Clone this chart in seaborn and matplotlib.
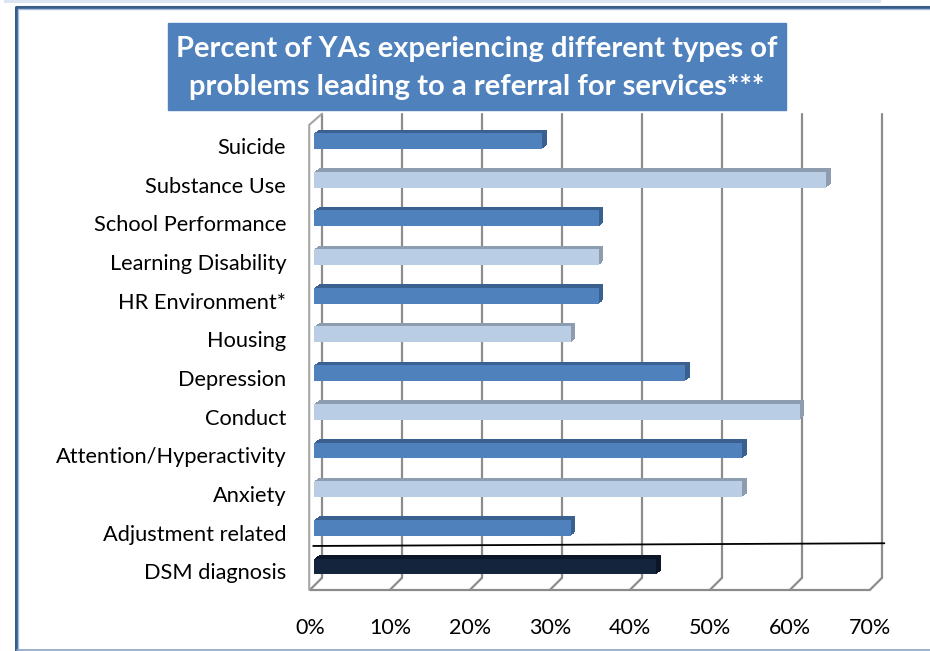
import matplotlib
matplotlib.use("Agg")
import matplotlib.pyplot as plt
import matplotlib.transforms as mtransforms
from matplotlib.patches import Rectangle
from matplotlib.lines import Line2D
import seaborn as sns
import pandas as pd

# data
categories = ["Suicide", "Substance Use", "School Performance", "Learning Disability",
              "HR Environment*", "Housing", "Depression", "Conduct",
              "Attention/Hyperactivity", "Anxiety", "Adjustment related", "DSM diagnosis"]
percents = [28.5, 64.0, 35.6, 35.6, 35.6, 32.1, 46.4, 60.7, 53.5, 53.5, 32.1, 42.8]
x_ticks = [0, 10, 20, 30, 40, 50, 60, 70]
x_tick_labels = ["0%", "10%", "20%", "30%", "40%", "50%", "60%", "70%"]
title_lines = ["Percent of YAs experiencing different types of",
               "problems leading to a referral for services***"]

# colours: alternating blues, DSM diagnosis in navy
front_colors = ["#4F81BD" if i % 2 == 0 else "#B9CDE5" for i in range(len(categories) - 1)] + ["#14243D"]
side_colors = ["#3A6090" if i % 2 == 0 else "#8E9CAF" for i in range(len(categories) - 1)] + ["#0B1628"]

sns.set_theme(style="white")
plt.rcParams["font.family"] = ["Lato", "DejaVu Sans"]

W, H = 930, 651
fig = plt.figure(figsize=(W / 100, H / 100), dpi=100)
ax = fig.add_axes([314 / W, 1 - 585.8 / H, 560 / W, 464.1 / H])

df = pd.DataFrame({"problem": categories, "percent": percents})

# depth faces: a few shifted copies behind the front faces give the slanted top/side
n_done = 0
for step in range(1, 6):
    sns.barplot(data=df, x="percent", y="problem", hue="problem", palette=side_colors,
                legend=False, width=0.41, saturation=1, linewidth=0, ax=ax)
    shift = mtransforms.ScaledTranslation(step * 0.9 / 100, step * 0.7 / 100, fig.dpi_scale_trans)
    for p in ax.patches[n_done:]:
        p.set_transform(ax.transData + shift)
        p.set_zorder(1)
    n_done = len(ax.patches)

sns.barplot(data=df, x="percent", y="problem", hue="problem", palette=front_colors,
            legend=False, width=0.41, saturation=1, linewidth=0, ax=ax)
for p in ax.patches[n_done:]:
    p.set_zorder(1.5)

ax.set_xlim(0, 70)
ax.set_ylim(len(categories) - 0.5, -0.5)
ax.set_xlabel("")
ax.set_ylabel("")
for s in ax.spines.values():
    s.set_visible(False)
ax.grid(False)
ax.patch.set_alpha(0)

ax.set_xticks(x_ticks, x_tick_labels)
ax.tick_params(axis="x", length=0, pad=23, labelsize=15.5, labelcolor="black")
ax.tick_params(axis="y", length=0, pad=20, labelsize=15.7, labelcolor="black")
for lab in ax.get_yticklabels():
    lab.set_transform(lab.get_transform() + mtransforms.ScaledTranslation(0, -5 / 100, fig.dpi_scale_trans))
for lab in ax.get_xticklabels():
    lab.set_transform(lab.get_transform() + mtransforms.ScaledTranslation(-4 / 100, 0, fig.dpi_scale_trans))

# 3D box: back wall gridlines, floor and left wall
bx = ax.get_xaxis_transform()
grid_kw = dict(transform=bx, color="#8C8C8C", lw=1.6, clip_on=False, zorder=0.5)
back_dx, back_dy = 1.0, 0.0172
front_dx, front_dy = -0.5, -0.0086
for v in x_ticks:
    ax.plot([v + back_dx, v + back_dx], [back_dy, 1 + back_dy], **grid_kw)
    ax.plot([v + front_dx, v + back_dx], [front_dy, back_dy], **grid_kw)
ax.plot([x_ticks[0] + front_dx, x_ticks[-1] + front_dx], [front_dy, front_dy], **grid_kw)
ax.plot([front_dx - 0.1, front_dx - 0.1, back_dx], [front_dy, 0.993, 1 + back_dy],
        transform=bx, color="#A6A6A6", lw=1.5, clip_on=False, zorder=0.5)

# separator between the problem types and DSM diagnosis
sep = len(categories) - 1.53
ax.plot([-0.1, 71.3], [sep, sep - 0.07], color="black", lw=1.3, clip_on=False, zorder=3)

# title box
fig.add_artist(Rectangle((168 / W, 1 - 110 / H), 618 / W, 87 / H,
                         transform=fig.transFigure, color="#4F81BD", zorder=0))
fig.text(477 / W, 1 - 68 / H, "\n".join(title_lines), ha="center", va="center",
         color="white", fontsize=21, fontweight="bold", linespacing=1.6)

# slide frame
fig.add_artist(Rectangle((4 / W, 1 - 3 / H), 877 / W, 3 / H, transform=fig.transFigure,
                         color="#DCE6F2", lw=0))
fig.add_artist(Line2D([15.5 / W, 15.5 / W, 1], [0, 1 - 6.5 / H, 1 - 6.5 / H],
                      transform=fig.transFigure, color="#385D8A", lw=2.2))
fig.add_artist(Line2D([18 / W, 18 / W, 1], [0, 1 - 9 / H, 1 - 9 / H],
                      transform=fig.transFigure, color="#A7BFDE", lw=1))
fig.add_artist(Line2D([17 / W, 1], [1 - 650 / H, 1 - 650 / H],
                      transform=fig.transFigure, color="#8EA4C2", lw=1.2))

fig.savefig("out.png", dpi=100)
